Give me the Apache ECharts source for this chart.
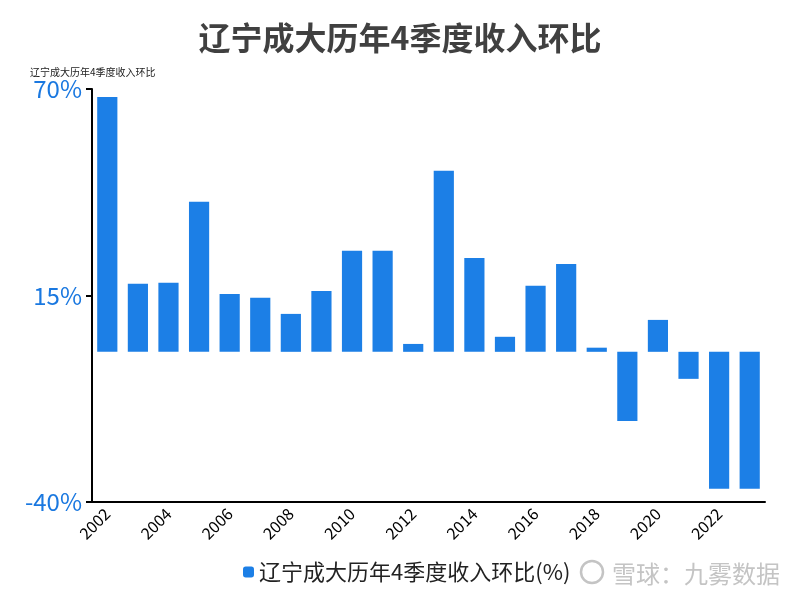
<!DOCTYPE html>
<html>
<head>
<meta charset="utf-8">
<script src="https://cdn.jsdelivr.net/npm/echarts@6/dist/echarts.min.js"></script>
<style>
  html, body { margin: 0; padding: 0; background: #fff; }
  #chart { width: 800px; height: 600px; }
</style>
</head>
<body>
<div id="chart"></div>
<script>
// 年份
const years = ["2002","2003","2004","2005","2006","2007","2008","2009","2010","2011","2012",
  "2013","2014","2015","2016","2017","2018","2019","2020","2021","2022","2023"];
// 4季度收入环比(%)
const ratio = [67.9, 18.1, 18.4, 40.0, 15.4, 14.4, 10.1, 16.2, 26.9, 26.9, 2.1,
  48.2, 25.0, 4.0, 17.6, 23.4, 1.1, -18.4, 8.5, -7.2, -36.5, -36.5];
const seriesName = "辽宁成大历年4季度收入环比(%)";

const font = "'Noto Sans CJK SC', 'Noto Sans', sans-serif";
const mychart = echarts.init(document.getElementById("chart"));
mychart.setOption({
  animation: false,
  textStyle: { fontFamily: font },
  title: {
    text: "辽宁成大历年4季度收入环比",
    left: "center",
    top: 17,
    textStyle: { fontSize: 32, fontWeight: "bold", color: "#404040", fontFamily: font }
  },
  legend: {
    bottom: 12,
    left: 238,
    itemWidth: 11,
    itemHeight: 11,
    icon: "roundRect",
    itemGap: 6,
    textStyle: { fontSize: 22, color: "#222", fontFamily: font }
  },
  grid: { left: 92, right: 35, top: 89, bottom: 98 },
  xAxis: {
    type: "category",
    data: years,
    axisLine: { onZero: false, lineStyle: { color: "#000", width: 2 } },
    axisTick: { interval: 1, length: 6, lineStyle: { color: "#000", width: 2 } },
    axisLabel: { interval: 1, rotate: 45, fontSize: 16, color: "#000", margin: 9 }
  },
  yAxis: {
    type: "value",
    min: -40,
    max: 70,
    interval: 55,
    name: "辽宁成大历年4季度收入环比",
    nameLocation: "end",
    nameGap: 12,
    nameTextStyle: { fontSize: 10, color: "#222", align: "left", padding: [0, 0, 0, -62] },
    axisLine: { show: true, lineStyle: { color: "#000", width: 2 } },
    axisTick: { show: true, length: 6, lineStyle: { color: "#000", width: 2 } },
    axisLabel: { formatter: "{value}%", fontSize: 24, color: "#1a78e0", margin: 10 },
    splitLine: { show: false }
  },
  series: [
    {
      name: seriesName,
      type: "bar",
      data: ratio,
      barWidth: "66%",
      itemStyle: { color: "#1c7fe6" }
    }
  ],
  graphic: [
    {
      type: "text",
      right: 20,
      bottom: 14,
      style: {
        text: "雪球：九雾数据",
        fontSize: 24,
        fill: "#c4c4c4",
        fontFamily: font
      }
    },
    {
      type: "circle",
      shape: { cx: 592, cy: 572, r: 11 },
      style: { fill: "none", stroke: "#c4c4c4", lineWidth: 2.5 }
    }
  ]
});
</script>
</body>
</html>
